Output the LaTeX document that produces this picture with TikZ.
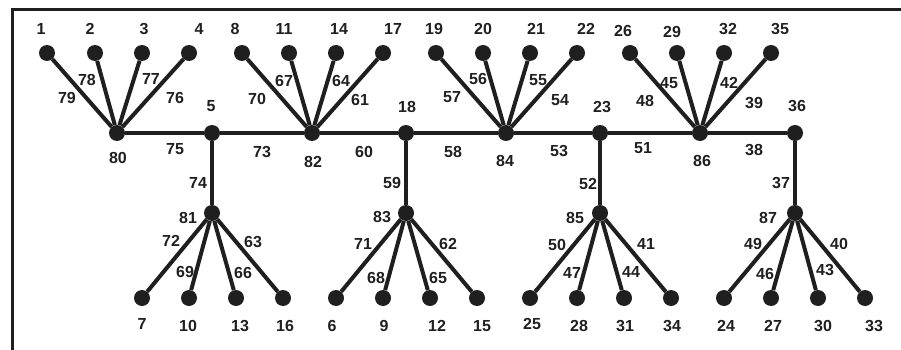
\documentclass[tikz,border=0pt]{standalone}
\usepackage{fontspec}
\setmainfont{Liberation Sans}
\begin{document}
\begin{tikzpicture}[x=1pt,y=-1pt,
		every node/.style={font=\bfseries\fontsize{16}{16}\selectfont,text=black!88},
		vtx/.style={circle,fill=black!88,inner sep=0pt,minimum size=16pt},
		edge/.style={line width=4pt,black!88}]
		\useasboundingbox (0,0) rectangle (901,350);
		\draw[line width=3pt,black!88] (12.5,360) -- (12.5,10) -- (910,10);
		\foreach \n/\x in {80/117,5/212,82/312,18/406,84/506,23/600,86/700,36/795}
			\node[vtx] (v\n) at (\x,133) {};
		\foreach \n/\x in {81/212,83/406,85/600,87/795}
			\node[vtx] (v\n) at (\x,213) {};
		\foreach \n/\x in {1/47,2/95,3/142,4/189,8/242,11/289,14/336,17/383,19/436,20/483,21/530,22/577,26/630,29/677,32/724,35/771}
			\node[vtx] (v\n) at (\x,53) {};
		\foreach \n/\x in {7/142,10/189,13/236,16/283,6/336,9/383,12/430,15/477,25/530,28/577,31/624,34/671,24/724,27/771,30/818,33/865}
			\node[vtx] (v\n) at (\x,298) {};
		\draw[edge] (v80) -- (v5) -- (v82) -- (v18) -- (v84) -- (v23) -- (v86) -- (v36);
		\foreach \a/\b in {5/81,18/83,23/85,36/87,
				80/1,80/2,80/3,80/4,82/8,82/11,82/14,82/17,84/19,84/20,84/21,84/22,86/26,86/29,86/32,86/35,
				81/7,81/10,81/13,81/16,83/6,83/9,83/12,83/15,85/25,85/28,85/31,85/34,87/24,87/27,87/30,87/33}
			\draw[edge] (v\a) -- (v\b);
		\foreach \n/\x/\y in {1/41/29,2/90/29,3/144/29,4/199/29,8/235/29,11/284/29,14/339/29,17/393/29,
				19/434/29,20/483/29,21/536/29,22/586/29,26/623/31,29/672/32,32/728/29,35/780/29,
				80/118/158,5/211/106,82/313/162,18/407/107,84/505/161,23/602/107,86/702/161,36/797/106,
				81/188/218,83/382/217,85/575/218,87/768/218,
				7/142/324,10/188/326,13/240/326,16/285/326,6/332/326,9/384/326,12/437/326,15/482/326,
				25/532/324,28/579/326,31/625/326,34/672/326,24/726/326,27/773/326,30/823/326,33/874/326}
			\node (n\n) at (\x,\y) {\n};
		\foreach \n/\x/\y in {79/67/98,78/87/80,77/151/79,76/175/98,70/257/99,67/284/81,64/341/81,61/360/100,
				57/452/97,56/478/79,55/538/80,54/560/100,48/645/101,45/669/83,42/729/83,39/754/103,
				75/175/149,73/262/152,60/364/152,58/453/152,53/559/151,51/643/148,38/754/150,
				74/198/183,59/392/183,52/588/184,37/781/183,
				72/171/241,69/185/272,66/243/273,63/253/242,71/363/244,68/376/278,65/438/278,62/448/244,
				50/557/245,47/572/273,44/631/272,41/646/244,49/753/244,46/765/274,43/825/270,40/839/244}
			\node (e\n) at (\x,\y) {\n};
	\end{tikzpicture}
\end{document}
